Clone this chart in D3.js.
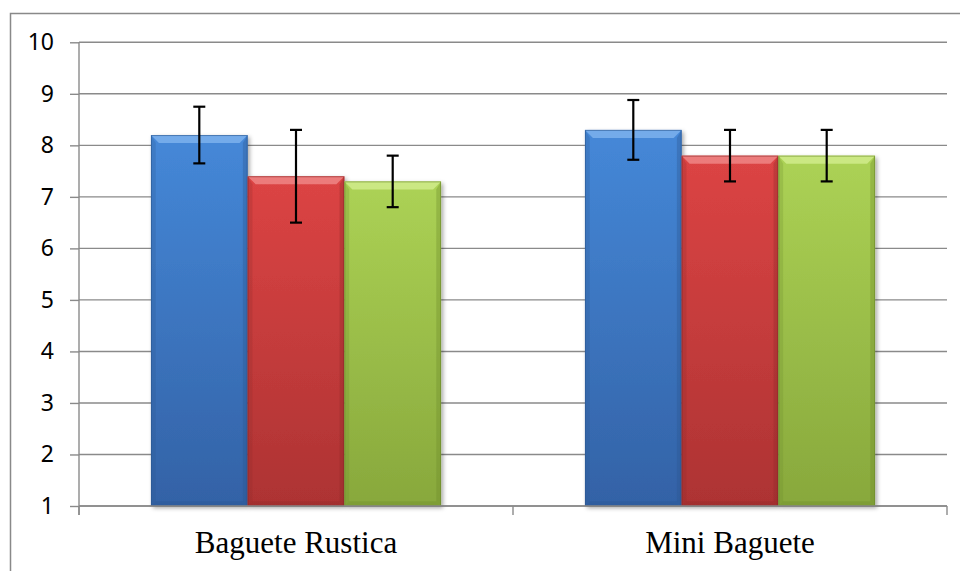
<!DOCTYPE html>
<html>
<head>
<meta charset="utf-8">
<script src="https://cdn.jsdelivr.net/npm/d3@7"></script>
<style>
  html, body { margin: 0; padding: 0; background: #fff; }
  svg { display: block; }
</style>
</head>
<body>
<svg id="chart" width="960" height="571"></svg>
<script>
// ---- data ----
const categories = ["Baguete Rustica", "Mini Baguete"];
const seriesNames = ["Series 1", "Series 2", "Series 3"];
const blueValues = [8.2, 8.3];
const redValues = [7.4, 7.8];
const greenValues = [7.3, 7.8];
const blueErrors = [0.55, 0.58];
const redErrors = [0.9, 0.5];
const greenErrors = [0.5, 0.5];
const yTicks = [1, 2, 3, 4, 5, 6, 7, 8, 9, 10];

const seriesValues = [blueValues, redValues, greenValues];
const seriesErrors = [blueErrors, redErrors, greenErrors];
const palettes = [
  { top: "#4588d8", bottom: "#3362a6", bevel: "#7fb4ef", edge: "#2b5790" },
  { top: "#dc4444", bottom: "#ad3333", bevel: "#f08a8a", edge: "#8e2a2a" },
  { top: "#acd255", bottom: "#88a83c", bevel: "#d3ee8e", edge: "#6d8a2c" }
];

const rows = [];
categories.forEach((c, i) => {
  seriesNames.forEach((s, j) => {
    rows.push({ cat: c, series: s, si: j, value: seriesValues[j][i], err: seriesErrors[j][i] });
  });
});

// ---- layout ----
const svg = d3.select("#chart");
const plotLeft = 79, plotRight = 947, plotTop = 42.3, plotBottom = 506;

const x0 = d3.scaleBand().domain(categories).range([plotLeft, plotRight]).padding(0);
const x1 = d3.scaleBand().domain(seriesNames).range([0, x0.bandwidth()]).paddingInner(0).paddingOuter(0.744);
const y = d3.scaleLinear().domain([1, 10]).range([plotBottom, plotTop]);

// defs
const defs = svg.append("defs");
palettes.forEach((p, i) => {
  const g = defs.append("linearGradient").attr("id", "grad" + i)
    .attr("x1", 0).attr("y1", 0).attr("x2", 0).attr("y2", 1);
  g.append("stop").attr("offset", "0%").attr("stop-color", p.top);
  g.append("stop").attr("offset", "100%").attr("stop-color", p.bottom);
});
const f = defs.append("filter").attr("id", "shadow")
  .attr("x", "-10%").attr("y", "-10%").attr("width", "130%").attr("height", "130%");
f.append("feDropShadow").attr("dx", 2).attr("dy", 2).attr("stdDeviation", 2)
  .attr("flood-color", "#000").attr("flood-opacity", 0.35);

// outer border
svg.append("rect").attr("x", 10.5).attr("y", 13.5).attr("width", 980).attr("height", 600)
  .attr("fill", "none").attr("stroke", "#898989").attr("stroke-width", 1.5);

// gridlines
svg.append("g").selectAll("line").data(yTicks).join("line")
  .attr("x1", plotLeft).attr("x2", plotRight)
  .attr("y1", d => y(d)).attr("y2", d => y(d))
  .attr("stroke", "#8a8a8a").attr("stroke-width", 1.4);

// bars
const bevel = 8;
const barG = svg.append("g");
rows.forEach(r => {
  const bx = x0(r.cat) + x1(r.series);
  const bw = x1.bandwidth();
  const by = y(r.value);
  const bh = y(1) - by;
  const p = palettes[r.si];
  const g = barG.append("g");
  g.append("rect").attr("x", bx).attr("y", by).attr("width", bw).attr("height", bh)
    .attr("fill", `url(#grad${r.si})`).attr("filter", "url(#shadow)");
  g.append("polygon")
    .attr("points", [[bx, by], [bx + bw, by], [bx + bw - bevel, by + bevel], [bx + bevel, by + bevel]].map(d => d.join(",")).join(" "))
    .attr("fill", p.bevel).attr("opacity", 0.8);
  g.append("polygon")
    .attr("points", [[bx, by], [bx + bevel * 0.6, by + bevel], [bx + bevel * 0.6, by + bh - bevel * 0.6], [bx, by + bh]].map(d => d.join(",")).join(" "))
    .attr("fill", p.edge).attr("opacity", 0.25);
  g.append("polygon")
    .attr("points", [[bx + bw, by], [bx + bw - bevel * 0.6, by + bevel], [bx + bw - bevel * 0.6, by + bh - bevel * 0.6], [bx + bw, by + bh]].map(d => d.join(",")).join(" "))
    .attr("fill", p.edge).attr("opacity", 0.35);
  g.append("polygon")
    .attr("points", [[bx, by + bh], [bx + bevel * 0.6, by + bh - bevel * 0.6], [bx + bw - bevel * 0.6, by + bh - bevel * 0.6], [bx + bw, by + bh]].map(d => d.join(",")).join(" "))
    .attr("fill", p.edge).attr("opacity", 0.35);
  g.append("rect").attr("x", bx + 0.5).attr("y", by + 0.5).attr("width", bw - 1).attr("height", bh - 1)
    .attr("fill", "none").attr("stroke", p.edge).attr("stroke-width", 1).attr("opacity", 0.6);
});

// error bars
const errG = svg.append("g").attr("stroke", "#000").attr("stroke-width", 2.2);
rows.forEach(r => {
  const cx = x0(r.cat) + x1(r.series) + x1.bandwidth() / 2;
  const yt = y(r.value + r.err), yb = y(r.value - r.err);
  errG.append("line").attr("x1", cx).attr("x2", cx).attr("y1", yt).attr("y2", yb);
  errG.append("line").attr("x1", cx - 6).attr("x2", cx + 6).attr("y1", yt).attr("y2", yt);
  errG.append("line").attr("x1", cx - 6).attr("x2", cx + 6).attr("y1", yb).attr("y2", yb);
});

// y axis
const yAxis = d3.axisLeft(y).tickValues(yTicks).tickSize(9).tickPadding(16).tickFormat(d3.format("d"));
const yg = svg.append("g").attr("transform", `translate(${plotLeft},0)`).call(yAxis);
yg.select(".domain").remove();
yg.selectAll(".tick line").attr("stroke", "#8a8a8a").attr("stroke-width", 1.4);
yg.selectAll(".tick text").attr("font-family", "'Noto Sans', sans-serif").attr("font-size", 23).attr("fill", "#000");
svg.append("line").attr("x1", plotLeft).attr("x2", plotLeft).attr("y1", plotTop).attr("y2", plotBottom + 9)
  .attr("stroke", "#8a8a8a").attr("stroke-width", 1.4);

// x axis
svg.append("line").attr("x1", plotLeft).attr("x2", plotRight).attr("y1", plotBottom).attr("y2", plotBottom)
  .attr("stroke", "#8a8a8a").attr("stroke-width", 1.4);
const xTickPos = [plotLeft, ...categories.slice(1).map(c => x0(c)), plotRight];
svg.append("g").selectAll("line").data(xTickPos).join("line")
  .attr("x1", d => d).attr("x2", d => d).attr("y1", plotBottom).attr("y2", plotBottom + 9)
  .attr("stroke", "#8a8a8a").attr("stroke-width", 1.4);
svg.append("g").selectAll("text").data(categories).join("text")
  .attr("x", d => x0(d) + x0.bandwidth() / 2).attr("y", 553)
  .attr("text-anchor", "middle")
  .attr("font-family", "'Liberation Serif', 'Times New Roman', serif")
  .attr("font-size", 31).attr("fill", "#000")
  .text(d => d);
</script>
</body>
</html>
